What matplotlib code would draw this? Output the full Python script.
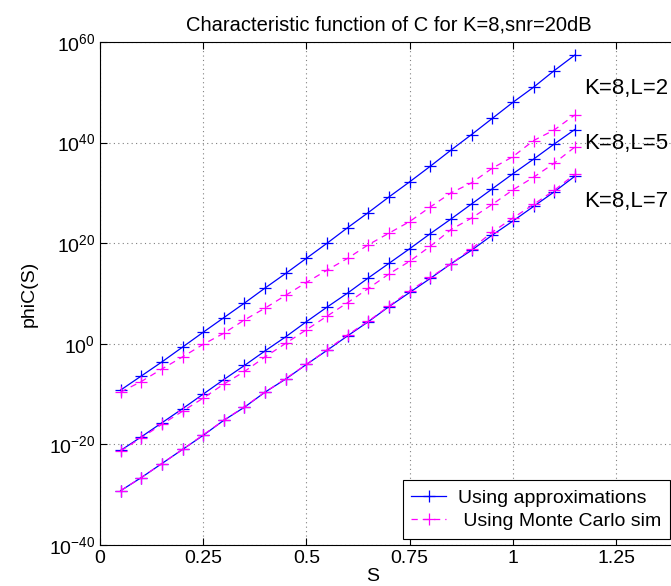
import numpy as np
import matplotlib.pyplot as plt
from matplotlib.ticker import FixedLocator, FuncFormatter

plt.rcParams['font.family'] = ['Liberation Sans', 'DejaVu Sans']
plt.rcParams['mathtext.default'] = 'regular'

# S values (x axis)
s_vals = [0.05, 0.10, 0.15, 0.20, 0.25, 0.30, 0.35, 0.40, 0.45, 0.50, 0.55, 0.60,
          0.65, 0.70, 0.75, 0.80, 0.85, 0.90, 0.95, 1.00, 1.05, 1.10, 1.15]

# log10 of phiC(S)
approx_L2 = [-9.2, -6.4, -3.6, -0.65, 2.3, 5.2, 8.1, 11.1, 14.0, 17.0, 20.0, 23.1,
             26.1, 29.2, 32.2, 35.3, 38.5, 41.6, 44.8, 48.0, 51.0, 54.3, 57.4]
mc_L2 = [-9.6, -7.5, -5.0, -2.6, -0.1, 2.1, 4.75, 7.1, 9.65, 12.2, 14.65, 17.0,
         19.7, 22.0, 24.3, 27.2, 30.0, 32.0, 34.9, 37.2, 40.4, 42.5, 45.5]
approx_L5 = [-21.2, -18.5, -15.7, -12.9, -10.0, -7.1, -4.3, -1.4, 1.4, 4.4, 7.3, 10.1,
             13.1, 16.0, 18.9, 21.9, 24.8, 27.8, 30.8, 33.8, 36.7, 39.7, 42.6]
mc_L5 = [-21.3, -18.7, -16.0, -13.4, -10.8, -8.0, -5.5, -2.6, 0.1, 2.8, 5.5, 8.2,
         11.0, 13.9, 16.4, 19.4, 22.7, 25.0, 27.7, 30.6, 33.1, 35.9, 39.1]
approx_L7 = [-29.2, -26.6, -23.8, -21.0, -18.2, -15.2, -12.6, -9.6, -7.0, -4.1, -1.3, 1.6,
             4.4, 7.4, 10.2, 13.0, 15.9, 18.6, 21.6, 24.4, 27.3, 30.2, 33.3]
mc_L7 = [-29.2, -26.6, -23.8, -21.0, -18.1, -15.2, -12.5, -9.6, -6.9, -4.1, -1.2, 1.8,
         4.5, 7.5, 10.5, 13.2, 15.9, 18.9, 22.2, 25.0, 27.7, 30.5, 33.7]

curve_labels = ['K=8,L=2', 'K=8,L=5', 'K=8,L=7']
label_pos = [(1.172, 50.7), (1.172, 39.8), (1.172, 28.3)]

x_ticks = [0, 0.25, 0.5, 0.75, 1, 1.25]
x_tick_labels = ['0', '0.25', '0.5', '0.75', '1', '1.25']
y_exps = [-40, -20, 0, 20, 40, 60]

fig = plt.figure(figsize=(6.71, 5.86), dpi=100)
ax = fig.add_axes([100 / 671, 1 - 545 / 586, 578 / 671, 503 / 586])

s = np.array(s_vals)
for a, m in [(approx_L2, mc_L2), (approx_L5, mc_L5), (approx_L7, mc_L7)]:
    ax.semilogy(s, 10.0 ** np.array(a), 'b-+', lw=0.9, ms=9, mew=0.9)
    ax.semilogy(s, 10.0 ** np.array(m), '--+', color='magenta', lw=0.9, ms=9, mew=0.9,
                dashes=(5, 4))

for txt, (xp, yp) in zip(curve_labels, label_pos):
    ax.text(xp, 10.0 ** yp, txt, fontsize=16, ha='left', va='center')

ax.set_xlim(0, 1.4)
ax.set_ylim(1e-40, 1e60)
ax.xaxis.set_major_locator(FixedLocator(x_ticks))
ax.set_xticklabels(x_tick_labels)
ax.yaxis.set_major_locator(FixedLocator([10.0 ** e for e in y_exps]))
ax.yaxis.set_minor_locator(FixedLocator([]))
ax.yaxis.set_major_formatter(FuncFormatter(lambda v, p: r'$10^{%d}$' % round(np.log10(v))))
ax.tick_params(direction='in', top=True, right=True, labelsize=14, length=5, width=0.8)
ax.grid(True, which='major', ls=(0, (1, 3)), color='gray', lw=0.8)

ax.set_title('Characteristic function of C for K=8,snr=20dB', fontsize=14.5, pad=8)
ax.set_xlabel('S', fontsize=14)
ax.xaxis.set_label_coords(0.472, -0.045)
ax.set_ylabel('phiC(S)', fontsize=14, labelpad=8)

h1, = ax.plot([], [], 'b-+', lw=0.9, ms=9, mew=0.9)
h2, = ax.plot([], [], '--+', color='magenta', lw=0.9, ms=9, mew=0.9, dashes=(5, 4))
leg = ax.legend([h1, h2], ['Using approximations', ' Using Monte Carlo sim'],
                loc='lower right', bbox_to_anchor=(670 / 671, 1 - 539 / 586),
                bbox_transform=fig.transFigure, fontsize=14, fancybox=False,
                framealpha=1, edgecolor='black', borderpad=0.45, labelspacing=0.3,
                handlelength=1.8, handletextpad=0.6, borderaxespad=0)
leg.get_frame().set_linewidth(0.8)

fig.savefig('out.png', dpi=100)
